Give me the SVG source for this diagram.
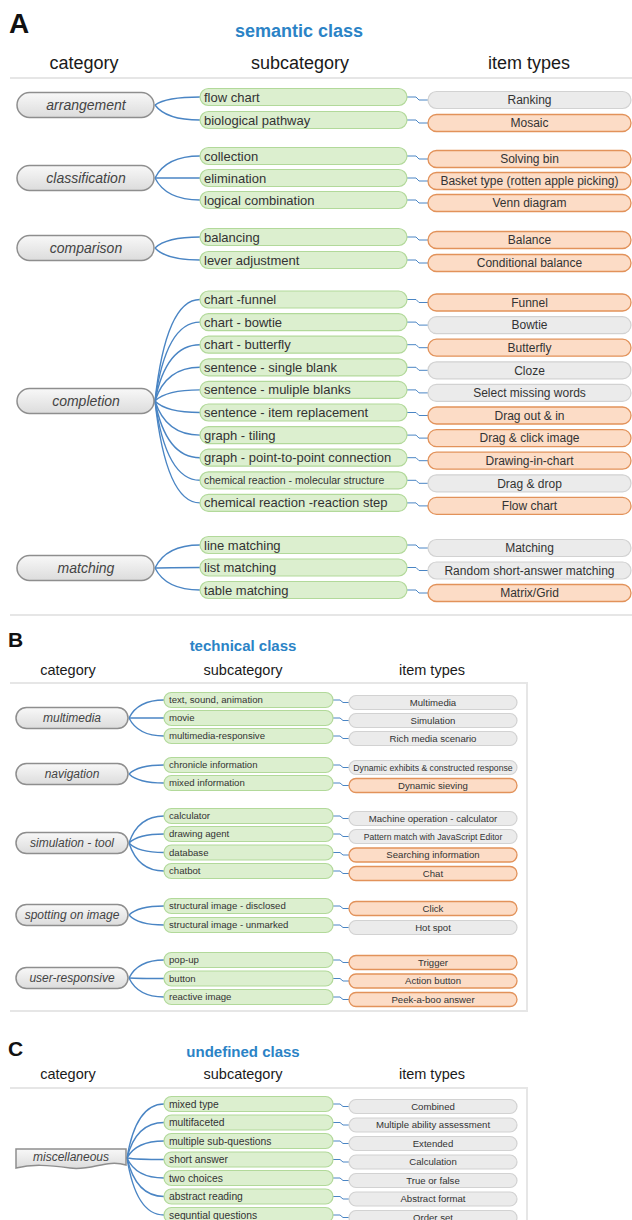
<svg xmlns="http://www.w3.org/2000/svg" width="632" height="1220" viewBox="0 0 632 1220">
<style>
text{font-family:"Liberation Sans",Arial,sans-serif}
.lbl{font-weight:bold;fill:#111}
.ttl{font-weight:bold;fill:#2b83c6;text-anchor:middle}
.hdr{fill:#1a1a1a;text-anchor:middle}
.cat{fill:url(#gcat);stroke:#8e8e8e;stroke-width:1.5}
.ct{font-style:italic;fill:#444;text-anchor:middle}
.sub{fill:#dcefcf;stroke:#b2d99a;stroke-width:1.2}
.st{fill:#333}
.itg{fill:#ebebeb;stroke:#d2d2d2;stroke-width:1.2}
.ito{fill:#fcdcc6;stroke:#e2925a;stroke-width:1.3}
.it{fill:#333;text-anchor:middle}
.con path{fill:none;stroke:#4a85c4;stroke-width:1.4}
.con path.lk{stroke-width:1}
.rule{fill:none;stroke:#e6e6e6;stroke-width:2}
.a .ct{font-size:14px}.a .st{font-size:13px}.a .it{font-size:12px}
.b .ct{font-size:12px}.b .st{font-size:9.6px}.b .it{font-size:9.6px}
.c .ct{font-size:12px}.c .st{font-size:10.3px}.c .it{font-size:9.6px}
</style>
<defs>
<linearGradient id="gcat" x1="0" y1="0" x2="0" y2="1">
<stop offset="0" stop-color="#f8f8f8"/><stop offset="1" stop-color="#dcdcdc"/>
</linearGradient>
</defs>
<rect width="632" height="1220" fill="#fff"/>

<!-- ===== Section A ===== -->
<g id="sectionA-heading">
<text class="lbl" x="9" y="33" font-size="28">A</text>
<text class="ttl" x="299" y="37" font-size="18">semantic class</text>
<text class="hdr" x="84" y="69" font-size="18">category</text>
<text class="hdr" x="300" y="69" font-size="18">subcategory</text>
<text class="hdr" x="529" y="69" font-size="18">item types</text>
<path class="rule" d="M10,78H632M10,615H632"/>
</g>

<g id="connectorsA" class="con">
<path d="M155,105Q166,97 200,97"/><path d="M155,105Q166,120 200,120"/>
<path d="M155,178Q166,156 200,156"/><path d="M155,178Q166,178 200,178"/><path d="M155,178Q166,200 200,200"/>
<path d="M155,248Q166,237 200,237"/><path d="M155,248Q166,260 200,260"/>
<path d="M155,401Q166,299.5 200,299.5"/><path d="M155,401Q166,322.1 200,322.1"/><path d="M155,401Q166,344.7 200,344.7"/><path d="M155,401Q166,367.3 200,367.3"/><path d="M155,401Q166,389.9 200,389.9"/><path d="M155,401Q166,412.5 200,412.5"/><path d="M155,401Q166,435.1 200,435.1"/><path d="M155,401Q166,457.7 200,457.7"/><path d="M155,401Q166,480.3 200,480.3"/><path d="M155,401Q166,502.9 200,502.9"/>
<path d="M155,568Q166,545 200,545"/><path d="M155,568Q166,567.5 200,567.5"/><path d="M155,568Q166,590 200,590"/>
<path class="lk" d="M407,97H416L419,100H428"/><path class="lk" d="M407,120H416L419,123H428"/>
<path class="lk" d="M407,156H416L419,159H428"/><path class="lk" d="M407,178H416L419,181H428"/><path class="lk" d="M407,200H416L419,203H428"/>
<path class="lk" d="M407,237H416L419,240H428"/><path class="lk" d="M407,260H416L419,263H428"/>
<path class="lk" d="M407,299.5H416L419,302.5H428"/><path class="lk" d="M407,322.1H416L419,325.1H428"/><path class="lk" d="M407,344.7H416L419,347.7H428"/><path class="lk" d="M407,367.3H416L419,370.3H428"/><path class="lk" d="M407,389.9H416L419,392.9H428"/><path class="lk" d="M407,412.5H416L419,415.5H428"/><path class="lk" d="M407,435.1H416L419,438.1H428"/><path class="lk" d="M407,457.7H416L419,460.7H428"/><path class="lk" d="M407,480.3H416L419,483.3H428"/><path class="lk" d="M407,502.9H416L419,505.9H428"/>
<path class="lk" d="M407,545H416L419,548H428"/><path class="lk" d="M407,567.5H416L419,570.5H428"/><path class="lk" d="M407,590H416L419,593H428"/>
</g>

<g class="a">
<g id="cat-arrangement"><rect class="cat" x="17" y="92.5" width="137" height="25" rx="12.5"/><text class="ct" x="86" y="110">arrangement</text></g>
<g id="cat-classification"><rect class="cat" x="17" y="165.5" width="137" height="25" rx="12.5"/><text class="ct" x="86" y="183">classification</text></g>
<g id="cat-comparison"><rect class="cat" x="17" y="235.5" width="137" height="25" rx="12.5"/><text class="ct" x="86" y="253">comparison</text></g>
<g id="cat-completion"><rect class="cat" x="17" y="388.5" width="137" height="25" rx="12.5"/><text class="ct" x="86" y="406">completion</text></g>
<g id="cat-matching"><rect class="cat" x="17" y="555.5" width="137" height="25" rx="12.5"/><text class="ct" x="86" y="573">matching</text></g>

<g id="sub-flow-chart"><rect class="sub" x="200" y="88.5" width="207" height="17" rx="8.5"/><text class="st" x="204" y="101.5">flow chart</text></g>
<g id="sub-biological-pathway"><rect class="sub" x="200" y="111.5" width="207" height="17" rx="8.5"/><text class="st" x="204" y="124.5">biological pathway</text></g>
<g id="sub-collection"><rect class="sub" x="200" y="147.5" width="207" height="17" rx="8.5"/><text class="st" x="204" y="160.5">collection</text></g>
<g id="sub-elimination"><rect class="sub" x="200" y="169.5" width="207" height="17" rx="8.5"/><text class="st" x="204" y="182.5">elimination</text></g>
<g id="sub-logical-combination"><rect class="sub" x="200" y="191.5" width="207" height="17" rx="8.5"/><text class="st" x="204" y="204.5">logical combination</text></g>
<g id="sub-balancing"><rect class="sub" x="200" y="228.5" width="207" height="17" rx="8.5"/><text class="st" x="204" y="241.5">balancing</text></g>
<g id="sub-lever-adjustment"><rect class="sub" x="200" y="251.5" width="207" height="17" rx="8.5"/><text class="st" x="204" y="264.5">lever adjustment</text></g>
<g id="sub-chart-funnel"><rect class="sub" x="200" y="291" width="207" height="17" rx="8.5"/><text class="st" x="204" y="304">chart -funnel</text></g>
<g id="sub-chart-bowtie"><rect class="sub" x="200" y="313.6" width="207" height="17" rx="8.5"/><text class="st" x="204" y="326.6">chart - bowtie</text></g>
<g id="sub-chart-butterfly"><rect class="sub" x="200" y="336.2" width="207" height="17" rx="8.5"/><text class="st" x="204" y="349.2">chart - butterfly</text></g>
<g id="sub-single-blank"><rect class="sub" x="200" y="358.8" width="207" height="17" rx="8.5"/><text class="st" x="204" y="371.8">sentence - single blank</text></g>
<g id="sub-muliple-blanks"><rect class="sub" x="200" y="381.4" width="207" height="17" rx="8.5"/><text class="st" x="204" y="394.4">sentence - muliple blanks</text></g>
<g id="sub-item-replacement"><rect class="sub" x="200" y="404" width="207" height="17" rx="8.5"/><text class="st" x="204" y="417">sentence - item replacement</text></g>
<g id="sub-graph-tiling"><rect class="sub" x="200" y="426.6" width="207" height="17" rx="8.5"/><text class="st" x="204" y="439.6">graph - tiling</text></g>
<g id="sub-point-to-point"><rect class="sub" x="200" y="449.2" width="207" height="17" rx="8.5"/><text class="st" x="204" y="462.2">graph - point-to-point connection</text></g>
<g id="sub-molecular-structure"><rect class="sub" x="200" y="471.8" width="207" height="17" rx="8.5"/><text class="st" x="204" y="484" style="font-size:10.5px">chemical reaction - molecular structure</text></g>
<g id="sub-reaction-step"><rect class="sub" x="200" y="494.4" width="207" height="17" rx="8.5"/><text class="st" x="204" y="507.4">chemical reaction -reaction step</text></g>
<g id="sub-line-matching"><rect class="sub" x="200" y="536.5" width="207" height="17" rx="8.5"/><text class="st" x="204" y="549.5">line matching</text></g>
<g id="sub-list-matching"><rect class="sub" x="200" y="559" width="207" height="17" rx="8.5"/><text class="st" x="204" y="572">list matching</text></g>
<g id="sub-table-matching"><rect class="sub" x="200" y="581.5" width="207" height="17" rx="8.5"/><text class="st" x="204" y="594.5">table matching</text></g>

<g id="item-ranking"><rect class="itg" x="428" y="91.5" width="203" height="17" rx="8.5"/><text class="it" x="529.5" y="104.2">Ranking</text></g>
<g id="item-mosaic"><rect class="ito" x="428" y="114.5" width="203" height="17" rx="8.5"/><text class="it" x="529.5" y="127.2">Mosaic</text></g>
<g id="item-solving-bin"><rect class="ito" x="428" y="150.5" width="203" height="17" rx="8.5"/><text class="it" x="529.5" y="163.2">Solving bin</text></g>
<g id="item-basket"><rect class="ito" x="428" y="172.5" width="203" height="17" rx="8.5"/><text class="it" x="529.5" y="185.2">Basket type (rotten apple picking)</text></g>
<g id="item-venn"><rect class="ito" x="428" y="194.5" width="203" height="17" rx="8.5"/><text class="it" x="529.5" y="207.2">Venn diagram</text></g>
<g id="item-balance"><rect class="ito" x="428" y="231.5" width="203" height="17" rx="8.5"/><text class="it" x="529.5" y="244.2">Balance</text></g>
<g id="item-conditional-balance"><rect class="ito" x="428" y="254.5" width="203" height="17" rx="8.5"/><text class="it" x="529.5" y="267.2">Conditional balance</text></g>
<g id="item-funnel"><rect class="ito" x="428" y="294" width="203" height="17" rx="8.5"/><text class="it" x="529.5" y="306.7">Funnel</text></g>
<g id="item-bowtie"><rect class="itg" x="428" y="316.6" width="203" height="17" rx="8.5"/><text class="it" x="529.5" y="329.3">Bowtie</text></g>
<g id="item-butterfly"><rect class="ito" x="428" y="339.2" width="203" height="17" rx="8.5"/><text class="it" x="529.5" y="351.9">Butterfly</text></g>
<g id="item-cloze"><rect class="itg" x="428" y="361.8" width="203" height="17" rx="8.5"/><text class="it" x="529.5" y="374.5">Cloze</text></g>
<g id="item-select-missing"><rect class="itg" x="428" y="384.4" width="203" height="17" rx="8.5"/><text class="it" x="529.5" y="397.1">Select missing words</text></g>
<g id="item-drag-out-in"><rect class="ito" x="428" y="407" width="203" height="17" rx="8.5"/><text class="it" x="529.5" y="419.7">Drag out &amp; in</text></g>
<g id="item-drag-click"><rect class="ito" x="428" y="429.6" width="203" height="17" rx="8.5"/><text class="it" x="529.5" y="442.3">Drag &amp; click image</text></g>
<g id="item-drawing-in-chart"><rect class="ito" x="428" y="452.2" width="203" height="17" rx="8.5"/><text class="it" x="529.5" y="464.9">Drawing-in-chart</text></g>
<g id="item-drag-drop"><rect class="itg" x="428" y="474.8" width="203" height="17" rx="8.5"/><text class="it" x="529.5" y="487.5">Drag &amp; drop</text></g>
<g id="item-flow-chart"><rect class="ito" x="428" y="497.4" width="203" height="17" rx="8.5"/><text class="it" x="529.5" y="510.1">Flow chart</text></g>
<g id="item-matching"><rect class="itg" x="428" y="539.5" width="203" height="17" rx="8.5"/><text class="it" x="529.5" y="552.2">Matching</text></g>
<g id="item-random-short"><rect class="itg" x="428" y="562" width="203" height="17" rx="8.5"/><text class="it" x="529.5" y="574.7">Random short-answer matching</text></g>
<g id="item-matrix-grid"><rect class="ito" x="428" y="584.5" width="203" height="17" rx="8.5"/><text class="it" x="529.5" y="597.2">Matrix/Grid</text></g>
</g>

<!-- ===== Section B ===== -->
<g id="sectionB-heading">
<text class="lbl" x="8" y="647" font-size="21">B</text>
<text class="ttl" x="243" y="651" font-size="15">technical class</text>
<text class="hdr" x="68" y="675" font-size="14.5">category</text>
<text class="hdr" x="243" y="675" font-size="14.5">subcategory</text>
<text class="hdr" x="432" y="675" font-size="14.5">item types</text>
<path class="rule" d="M10,683H527V1011H10" stroke-width="1.5"/>
</g>

<g id="connectorsB" class="con">
<path d="M129,718Q138,700 164,700"/><path d="M129,718Q138,718 164,718"/><path d="M129,718Q138,736 164,736"/>
<path d="M129,774Q138,765 164,765"/><path d="M129,774Q138,783 164,783"/>
<path d="M129,843Q138,816 164,816"/><path d="M129,843Q138,834 164,834"/><path d="M129,843Q138,852.5 164,852.5"/><path d="M129,843Q138,871 164,871"/>
<path d="M129,915Q138,906 164,906"/><path d="M129,915Q138,925 164,925"/>
<path d="M129,978Q138,960 164,960"/><path d="M129,978Q138,978.5 164,978.5"/><path d="M129,978Q138,997 164,997"/>
<path class="lk" d="M333,700H340L343,702.5H349"/><path class="lk" d="M333,718H340L343,720.5H349"/><path class="lk" d="M333,736H340L343,738.5H349"/>
<path class="lk" d="M333,765H340L343,767.5H349"/><path class="lk" d="M333,783H340L343,785.5H349"/>
<path class="lk" d="M333,816H340L343,818.5H349"/><path class="lk" d="M333,834H340L343,836.5H349"/><path class="lk" d="M333,852.5H340L343,855H349"/><path class="lk" d="M333,871H340L343,873.5H349"/>
<path class="lk" d="M333,906H340L343,908.5H349"/><path class="lk" d="M333,925H340L343,927.5H349"/>
<path class="lk" d="M333,960H340L343,962.5H349"/><path class="lk" d="M333,978.5H340L343,981H349"/><path class="lk" d="M333,997H340L343,999.5H349"/>
</g>

<g class="b">
<g id="cat-multimedia"><rect class="cat" x="16" y="707.5" width="112" height="21" rx="10.5"/><text class="ct" x="72" y="722.2">multimedia</text></g>
<g id="cat-navigation"><rect class="cat" x="16" y="763.5" width="112" height="21" rx="10.5"/><text class="ct" x="72" y="778.2">navigation</text></g>
<g id="cat-simulation-tool"><rect class="cat" x="16" y="832.5" width="112" height="21" rx="10.5"/><text class="ct" x="72" y="847.2">simulation - tool</text></g>
<g id="cat-spotting"><rect class="cat" x="16" y="904.5" width="112" height="21" rx="10.5"/><text class="ct" x="72" y="919.2">spotting on image</text></g>
<g id="cat-user-responsive"><rect class="cat" x="16" y="967.5" width="112" height="21" rx="10.5"/><text class="ct" x="72" y="982.2">user-responsive</text></g>

<g id="sub-text-sound"><rect class="sub" x="164" y="692.5" width="169" height="15" rx="7.5"/><text class="st" x="169" y="703.4">text, sound, animation</text></g>
<g id="sub-movie"><rect class="sub" x="164" y="710.5" width="169" height="15" rx="7.5"/><text class="st" x="169" y="721.4">movie</text></g>
<g id="sub-mm-responsive"><rect class="sub" x="164" y="728.5" width="169" height="15" rx="7.5"/><text class="st" x="169" y="739.4">multimedia-responsive</text></g>
<g id="sub-chronicle"><rect class="sub" x="164" y="757.5" width="169" height="15" rx="7.5"/><text class="st" x="169" y="768.4">chronicle information</text></g>
<g id="sub-mixed-info"><rect class="sub" x="164" y="775.5" width="169" height="15" rx="7.5"/><text class="st" x="169" y="786.4">mixed information</text></g>
<g id="sub-calculator"><rect class="sub" x="164" y="808.5" width="169" height="15" rx="7.5"/><text class="st" x="169" y="819.4">calculator</text></g>
<g id="sub-drawing-agent"><rect class="sub" x="164" y="826.5" width="169" height="15" rx="7.5"/><text class="st" x="169" y="837.4">drawing agent</text></g>
<g id="sub-database"><rect class="sub" x="164" y="845" width="169" height="15" rx="7.5"/><text class="st" x="169" y="855.9">database</text></g>
<g id="sub-chatbot"><rect class="sub" x="164" y="863.5" width="169" height="15" rx="7.5"/><text class="st" x="169" y="874.4">chatbot</text></g>
<g id="sub-disclosed"><rect class="sub" x="164" y="898.5" width="169" height="15" rx="7.5"/><text class="st" x="169" y="909.4">structural image - disclosed</text></g>
<g id="sub-unmarked"><rect class="sub" x="164" y="917.5" width="169" height="15" rx="7.5"/><text class="st" x="169" y="928.4">structural image - unmarked</text></g>
<g id="sub-pop-up"><rect class="sub" x="164" y="952.5" width="169" height="15" rx="7.5"/><text class="st" x="169" y="963.4">pop-up</text></g>
<g id="sub-button"><rect class="sub" x="164" y="971" width="169" height="15" rx="7.5"/><text class="st" x="169" y="981.9">button</text></g>
<g id="sub-reactive-image"><rect class="sub" x="164" y="989.5" width="169" height="15" rx="7.5"/><text class="st" x="169" y="1000.4">reactive image</text></g>

<g id="item-multimedia"><rect class="itg" x="349" y="695.5" width="168" height="14" rx="7"/><text class="it" x="433" y="705.8">Multimedia</text></g>
<g id="item-simulation"><rect class="itg" x="349" y="713.5" width="168" height="14" rx="7"/><text class="it" x="433" y="723.8">Simulation</text></g>
<g id="item-rich-media"><rect class="itg" x="349" y="731.5" width="168" height="14" rx="7"/><text class="it" x="433" y="741.8">Rich media scenario</text></g>
<g id="item-dynamic-exhibits"><rect class="itg" x="349" y="760.5" width="168" height="14" rx="7"/><text class="it" x="433" y="770.6" style="font-size:8.7px">Dynamic exhibits &amp; constructed response</text></g>
<g id="item-dynamic-sieving"><rect class="ito" x="349" y="778.5" width="168" height="14" rx="7"/><text class="it" x="433" y="788.8">Dynamic sieving</text></g>
<g id="item-machine-op"><rect class="itg" x="349" y="811.5" width="168" height="14" rx="7"/><text class="it" x="433" y="821.8">Machine operation - calculator</text></g>
<g id="item-pattern-match"><rect class="itg" x="349" y="829.5" width="168" height="14" rx="7"/><text class="it" x="433" y="839.6" style="font-size:8.6px">Pattern match with JavaScript Editor</text></g>
<g id="item-searching"><rect class="ito" x="349" y="848" width="168" height="14" rx="7"/><text class="it" x="433" y="858.3">Searching information</text></g>
<g id="item-chat"><rect class="ito" x="349" y="866.5" width="168" height="14" rx="7"/><text class="it" x="433" y="876.8">Chat</text></g>
<g id="item-click"><rect class="ito" x="349" y="901.5" width="168" height="14" rx="7"/><text class="it" x="433" y="911.8">Click</text></g>
<g id="item-hot-spot"><rect class="itg" x="349" y="920.5" width="168" height="14" rx="7"/><text class="it" x="433" y="930.8">Hot spot</text></g>
<g id="item-trigger"><rect class="ito" x="349" y="955.5" width="168" height="14" rx="7"/><text class="it" x="433" y="965.8">Trigger</text></g>
<g id="item-action-button"><rect class="ito" x="349" y="974" width="168" height="14" rx="7"/><text class="it" x="433" y="984.3">Action button</text></g>
<g id="item-peek-a-boo"><rect class="ito" x="349" y="992.5" width="168" height="14" rx="7"/><text class="it" x="433" y="1002.8">Peek-a-boo answer</text></g>
</g>

<!-- ===== Section C ===== -->
<g id="sectionC-heading">
<text class="lbl" x="8" y="1056" font-size="21">C</text>
<text class="ttl" x="243" y="1057" font-size="15">undefined class</text>
<text class="hdr" x="68" y="1079" font-size="14.5">category</text>
<text class="hdr" x="243" y="1079" font-size="14.5">subcategory</text>
<text class="hdr" x="432" y="1079" font-size="14.5">item types</text>
<path class="rule" d="M10,1088H527V1220" stroke-width="1.5"/>
</g>

<g id="connectorsC" class="con">
<path d="M127,1158Q136,1104 164,1104"/><path d="M127,1158Q136,1122.5 164,1122.5"/><path d="M127,1158Q136,1141 164,1141"/><path d="M127,1158Q136,1159.5 164,1159.5"/><path d="M127,1158Q136,1178 164,1178"/><path d="M127,1158Q136,1196.5 164,1196.5"/><path d="M127,1158Q136,1215 164,1215"/>
<path class="lk" d="M333,1104H340L343,1106.5H349"/><path class="lk" d="M333,1122.5H340L343,1125H349"/><path class="lk" d="M333,1141H340L343,1143.5H349"/><path class="lk" d="M333,1159.5H340L343,1162H349"/><path class="lk" d="M333,1178H340L343,1180.5H349"/><path class="lk" d="M333,1196.5H340L343,1199H349"/><path class="lk" d="M333,1215H340L343,1217.5H349"/>
</g>

<g class="c">
<g id="cat-miscellaneous"><path class="cat" d="M16,1149H126V1165C106,1159 92,1171 70,1168C48,1165 32,1164 16,1168Z"/><text class="ct" x="71" y="1161">miscellaneous</text></g>

<g id="sub-mixed-type"><rect class="sub" x="164" y="1096.5" width="169" height="15" rx="7.5"/><text class="st" x="169" y="1107.6">mixed type</text></g>
<g id="sub-multifaceted"><rect class="sub" x="164" y="1115" width="169" height="15" rx="7.5"/><text class="st" x="169" y="1126.1">multifaceted</text></g>
<g id="sub-multiple-sub"><rect class="sub" x="164" y="1133.5" width="169" height="15" rx="7.5"/><text class="st" x="169" y="1144.6">multiple sub-questions</text></g>
<g id="sub-short-answer"><rect class="sub" x="164" y="1152" width="169" height="15" rx="7.5"/><text class="st" x="169" y="1163.1">short answer</text></g>
<g id="sub-two-choices"><rect class="sub" x="164" y="1170.5" width="169" height="15" rx="7.5"/><text class="st" x="169" y="1181.6">two choices</text></g>
<g id="sub-abstract-reading"><rect class="sub" x="164" y="1189" width="169" height="15" rx="7.5"/><text class="st" x="169" y="1200.1">abstract reading</text></g>
<g id="sub-sequntial"><rect class="sub" x="164" y="1207.5" width="169" height="15" rx="7.5"/><text class="st" x="169" y="1218.6">sequntial questions</text></g>

<g id="item-combined"><rect class="itg" x="349" y="1099.5" width="168" height="14" rx="7"/><text class="it" x="433" y="1109.8">Combined</text></g>
<g id="item-multiple-ability"><rect class="itg" x="349" y="1118" width="168" height="14" rx="7"/><text class="it" x="433" y="1128.3">Multiple ability assessment</text></g>
<g id="item-extended"><rect class="itg" x="349" y="1136.5" width="168" height="14" rx="7"/><text class="it" x="433" y="1146.8">Extended</text></g>
<g id="item-calculation"><rect class="itg" x="349" y="1155" width="168" height="14" rx="7"/><text class="it" x="433" y="1165.3">Calculation</text></g>
<g id="item-true-false"><rect class="itg" x="349" y="1173.5" width="168" height="14" rx="7"/><text class="it" x="433" y="1183.8">True or false</text></g>
<g id="item-abstract-format"><rect class="itg" x="349" y="1192" width="168" height="14" rx="7"/><text class="it" x="433" y="1202.3">Abstract format</text></g>
<g id="item-order-set"><rect class="itg" x="349" y="1210.5" width="168" height="14" rx="7"/><text class="it" x="433" y="1220.8">Order set</text></g>
</g>
</svg>
